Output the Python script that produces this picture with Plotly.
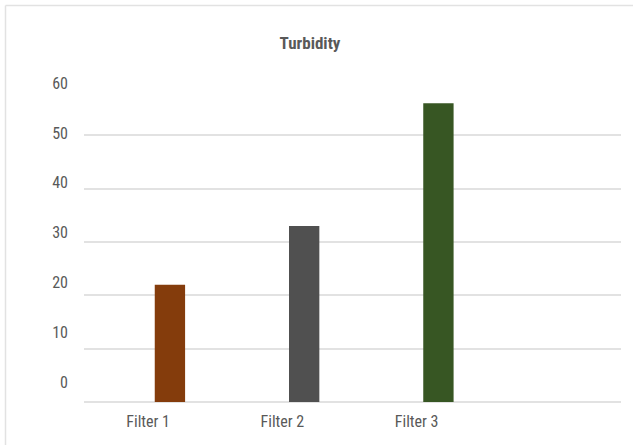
import plotly.graph_objects as go

# Turbidity readings per filter
categories = ["Filter 1", "Filter 2", "Filter 3"]
turbidity = [22, 33, 56]
bar_colors = ["#843C0C", "#505050", "#375623"]
y_ticks = [0, 10, 20, 30, 40, 50, 60]

FONT = "Liberation Sans Narrow, Arial Narrow, Roboto Condensed, Liberation Sans, sans-serif"
TEXT = "#595959"
GRID = "#e2e2e2"

fig = go.Figure()
fig.add_trace(go.Bar(
    x=categories,
    y=turbidity,
    marker=dict(color=bar_colors, line=dict(width=0)),
    width=0.226,
    offset=0.027,
    showlegend=False,
    hoverinfo="x+y",
))

# Invisible trace that carries the left-hand value labels
fig.add_trace(go.Scatter(x=[categories[0]], y=[0], yaxis="y2", mode="markers",
                         marker=dict(opacity=0), showlegend=False, hoverinfo="skip"))

fig.update_layout(
    width=633, height=445,
    margin=dict(l=84, r=12, t=82, b=43),
    paper_bgcolor="white", plot_bgcolor="white",
    font=dict(family=FONT, color=TEXT),
    title=dict(text="<b>Turbidity</b>", x=310 / 633, xref="container", xanchor="center",
               y=1 - 43 / 445, yref="container", yanchor="middle",
               font=dict(family=FONT, size=17, color=TEXT)),
    xaxis=dict(
        type="category", range=[-0.5, 3.5],
        showgrid=False, zeroline=False, showline=False, ticks="",
        tickfont=dict(family=FONT, size=16, color=TEXT),
        ticklabelstandoff=8, ticklabelshift=-3,
    ),
    yaxis=dict(
        range=[0, 60], tickvals=y_ticks, showticklabels=False,
        showgrid=True, gridcolor=GRID, gridwidth=1.5,
        zeroline=True, zerolinecolor=GRID, zerolinewidth=1.5,
        showline=False, ticks="",
    ),
    yaxis2=dict(
        overlaying="y", side="left", range=[-4.0, 60.26],
        tickvals=y_ticks, showgrid=False, zeroline=False, showline=False,
        ticks="", tickfont=dict(family=FONT, size=16, color=TEXT),
        ticklabelstandoff=15,
    ),
    shapes=[
        dict(type="line", xref="paper", yref="paper",
             x0=(5.5 - 84) / 537, x1=(633 - 84) / 537,
             y0=1 + (82 - 5.5) / 320, y1=1 + (82 - 5.5) / 320,
             line=dict(color=GRID, width=1.5)),
        dict(type="line", xref="paper", yref="paper",
             x0=(5.5 - 84) / 537, x1=(5.5 - 84) / 537,
             y0=1 + (82 - 5.5) / 320, y1=-43 / 320,
             line=dict(color=GRID, width=1.5)),
    ],
)

fig.write_html("out.html")
